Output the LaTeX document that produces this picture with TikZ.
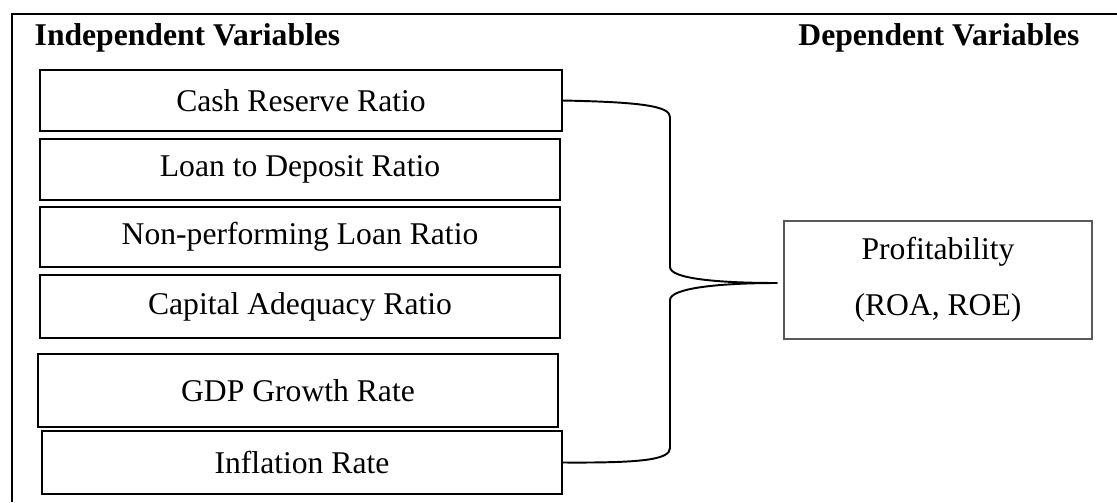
\documentclass[tikz,border=0pt]{standalone}
\usepackage{fontspec}
\setmainfont{Liberation Serif}
\usepackage{tikz}
\usetikzlibrary{positioning}

\tikzset{
  varbox/.style={draw, line width=0.55pt, minimum width=52mm, minimum height=6.1mm,
    inner sep=0pt, outer sep=0pt, font=\fontsize{9}{11}\selectfont},
  headlabel/.style={inner sep=0pt, font=\fontsize{9}{11}\selectfont\bfseries},
  brace/.style={line width=0.55pt}
}

\begin{document}
\begin{tikzpicture}[x=0.1mm, y=-0.1mm]
    \useasboundingbox (0,0) rectangle (1117,502);
    % Frame
    \draw[line width=0.85pt] (1117,14) -- (12,14) -- (12,502);

    % Headings
    \node[headlabel, anchor=base west] (indep) at (34,46) {Independent Variables};
    \node[headlabel, anchor=base east] (dep) at (1080,46) {Dependent Variables};

    % Independent variables
    \node[varbox, minimum width=52.2mm] (cash) at (301,100.5) {Cash Reserve Ratio};
    \node[varbox, below=0.8mm of cash.south west, anchor=north west] (loan) {Loan to Deposit Ratio};
    \node[varbox, minimum height=6mm, below=0.7mm of loan] (npl) {Non-performing Loan Ratio};
    \node[varbox, minimum height=6.3mm, below=0.8mm of npl] (car) {Capital Adequacy Ratio};
    \node[varbox, minimum height=7.3mm, below=1.6mm of car, xshift=-0.2mm] (gdp) {GDP Growth Rate};
    \node[varbox, minimum height=6.3mm, below=0.4mm of gdp, xshift=0.4mm] (infl) {Inflation Rate};

    % Dependent variable
    \node[draw, gray!70!black, text=black, line width=0.35pt, minimum width=30.8mm, minimum height=11.8mm,
      align=center, font=\fontsize{9}{16}\selectfont] (profit) at (938,280) {Profitability\\(ROA, ROE)};
    \coordinate (tip) at ([xshift=-0.6mm, yshift=-0.3mm]profit.west);

    % Brace
    \draw[brace] (cash.east) .. controls (640,102) and (670,106) .. (670,117) -- (670,267)
      .. controls (670,279) and (720,283) .. (tip);
    \draw[brace] (tip) .. controls (720,283) and (670,288) .. (670,300) -- (670,448)
      .. controls (670,460) and (640,463) .. (infl.east);
\end{tikzpicture}
\end{document}
